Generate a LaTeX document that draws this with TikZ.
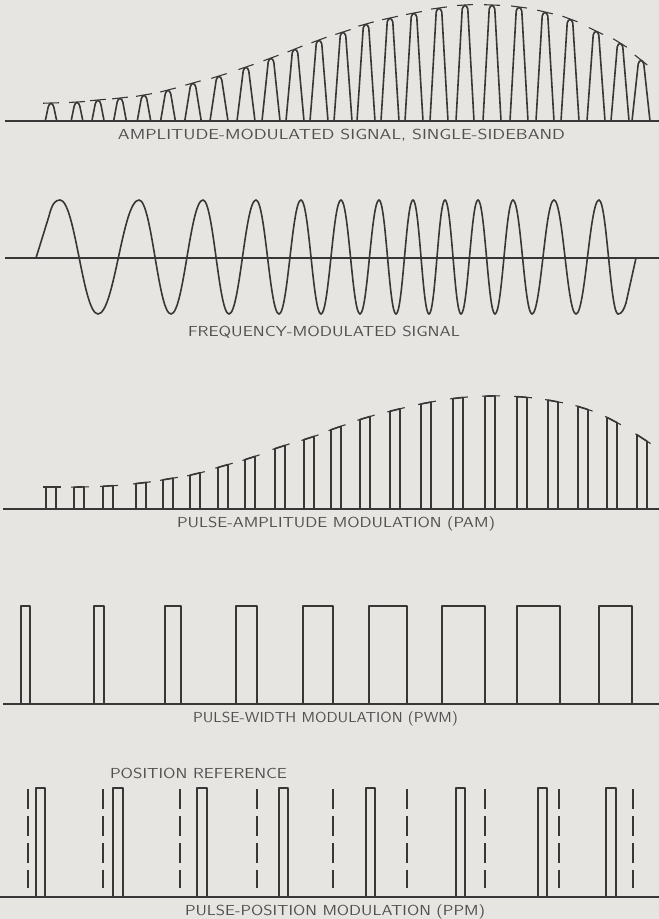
\documentclass[tikz,border=0pt]{standalone}
\usepackage{fontspec}
\usepackage{graphicx}
\definecolor{bg}{RGB}{230,229,225}
\definecolor{ink}{RGB}{55,55,55}
\definecolor{txt}{RGB}{80,80,80}
\newcommand\lblfont{\sffamily\fontsize{14.5}{15}\selectfont\addfontfeature{LetterSpace=12}}
\newcommand\fitlbl[2]{\setbox0=\hbox{\lblfont #2}\pgfmathsetmacro\fitf{#1/\wd0}\scalebox{\fitf}[1]{\box0}}
\tikzset{
  wave/.style={draw=ink, line width=1.6pt, line join=round, line cap=round},
  axisline/.style={draw=ink, line width=1.3pt},
  env/.style={draw=ink, line width=1.1pt},
  refline/.style={draw=ink, line width=1.1pt, dash pattern=on 20pt off 7pt},
  lbl/.style={text=txt, inner sep=0pt, anchor=base, font=\lblfont},
}
\begin{document}
\begin{tikzpicture}[x=1pt,y=-1pt]
\fill[bg] (0,0) rectangle (659,919);
\useasboundingbox (0,0) rectangle (659,919);

% ---------- AM ----------
\draw[axisline] (5,121) -- (659,121);
\foreach \xc/\pk/\slp in {51/103/-0.03, 77/102/-0.06, 98/100/-0.09, 120/98/-0.11,
  144/95/-0.17, 168/90/-0.26, 193/83/-0.28, 219/76/-0.31, 246/67/-0.34,
  271/58/-0.37, 295/49/-0.4, 319/40/-0.37, 343/32/-0.32, 366/24/-0.28,
  390/18/-0.22, 414/13/-0.19, 439/8/-0.14, 465/5/-0.06, 492/5/0.04,
  519/7/0.13, 545/12/0.24, 570/19/0.37, 596/31/0.48, 620/43/0.62, 641/60/0.8}{
  \pgfmathsetmacro\hw{min(9,3.5+0.125*(121-\pk))}
  \pgfmathsetmacro\dx{8/sqrt(1+(\slp)^2)}
  \pgfmathsetmacro\ya{\pk-\dx*(\slp)}
  \pgfmathsetmacro\yb{\pk+\dx*(\slp)}
  \draw[wave] (\xc-\hw,121) -- (\xc-2.8,\pk+4) .. controls (\xc-1.7,\pk-0.6) and (\xc+1.7,\pk-0.6) .. (\xc+2.8,\pk+4) -- (\xc+\hw,121);
  \draw[env] (\xc-\dx,\ya) -- (\xc+\dx,\yb);
}
\node[lbl] (amlabel) at (341.5,139) {\fitlbl{447}{AMPLITUDE-MODULATED SIGNAL, SINGLE-SIDEBAND}};

% ---------- FM ----------
\draw[axisline] (5,258) -- (659,258);
\draw[wave] (36,258) -- (49,216) .. controls (52,204) and (55,200) .. (60,200);
\foreach \xa/\ya/\xb/\yb in {60/200/98/314, 98/314/139/200, 139/200/171/314,
  171/314/203/200, 203/200/229/314, 229/314/256/200, 256/200/279/314,
  279/314/301/200, 301/200/321/314, 321/314/341/200, 341/200/360/314,
  360/314/379/200, 379/200/396/314, 396/314/413/200, 413/200/429/314,
  429/314/445/200, 445/200/461/314, 461/314/478/200, 478/200/495/314,
  495/314/513/200, 513/200/532/314, 532/314/554/200, 554/200/576/314,
  576/314/599/200, 599/200/618/314}{
  \pgfmathsetmacro\cc{0.4*(\xb-\xa)}
  \draw[wave] (\xa,\ya) .. controls (\xa+\cc,\ya) and (\xb-\cc,\yb) .. (\xb,\yb);
}
\draw[wave] (618,314) .. controls (622,314) and (624,309) .. (626,303) -- (636,258);
\node[lbl] (fmlabel) at (324,336) {\fitlbl{272}{FREQUENCY-MODULATED SIGNAL}};

% ---------- PAM ----------
\draw[axisline] (3,509) -- (659,509);
\foreach \xl/\pk/\slp in {46/487/0, 74/487/-0.02, 103/486/-0.06, 136/483/-0.12,
  163/479/-0.17, 190/474/-0.24, 218/466/-0.29, 245/458/-0.33, 275/447/-0.33,
  304/438/-0.33, 331/428/-0.35, 360/418/-0.3, 390/410/-0.25, 421/403/-0.19,
  453/398/-0.11, 485/396/-0.02, 517/397/0.08, 548/401/0.18, 578/408/0.32,
  607/420/0.52, 637/438/0.65}{
  \pgfmathsetmacro\yl{\pk-5*(\slp)}
  \pgfmathsetmacro\yr{\pk+5*(\slp)}
  \pgfmathsetmacro\dx{9/sqrt(1+(\slp)^2)}
  \pgfmathsetmacro\ya{\pk+(1-\dx)*(\slp)}
  \pgfmathsetmacro\yb{\pk+(1+\dx)*(\slp)}
  \draw[wave] (\xl,509) -- (\xl,\yl) -- (\xl+10,\yr) -- (\xl+10,509);
  \draw[env] (\xl+6-\dx,\ya) -- (\xl+6+\dx,\yb);
}
\node[lbl] (pamlabel) at (336,527) {\fitlbl{318}{PULSE-AMPLITUDE MODULATION (PAM)}};

% ---------- PWM ----------
\draw[axisline] (3,704) -- (659,704);
\foreach \pa/\pb in {21/30, 94/104, 165/181, 236/257, 303/333, 369/407, 442/485, 517/560, 599/632}{
  \draw[wave] (\pa,704) -- (\pa,606) -- (\pb,606) -- (\pb,704);
}
\node[lbl] (pwmlabel) at (325.5,722) {\fitlbl{265}{PULSE-WIDTH MODULATION (PWM)}};

% ---------- PPM ----------
\draw[axisline] (0,897) -- (659,897);
\foreach \rx in {28,103,180,257,333,407,485,559,633}{
  \draw[refline] (\rx,789) -- (\rx,888);
}
\foreach \pa/\pb in {36/45, 113/123, 197/207, 279/288, 366/375, 456/465, 538/547, 606/616}{
  \draw[wave] (\pa,897) -- (\pa,788) -- (\pb,788) -- (\pb,897);
}
\node[lbl] (poslabel) at (198.5,778) {\fitlbl{177}{POSITION REFERENCE}};
\node[lbl] (ppmlabel) at (335,915) {\fitlbl{300}{PULSE-POSITION MODULATION (PPM)}};
\end{tikzpicture}
\end{document}
